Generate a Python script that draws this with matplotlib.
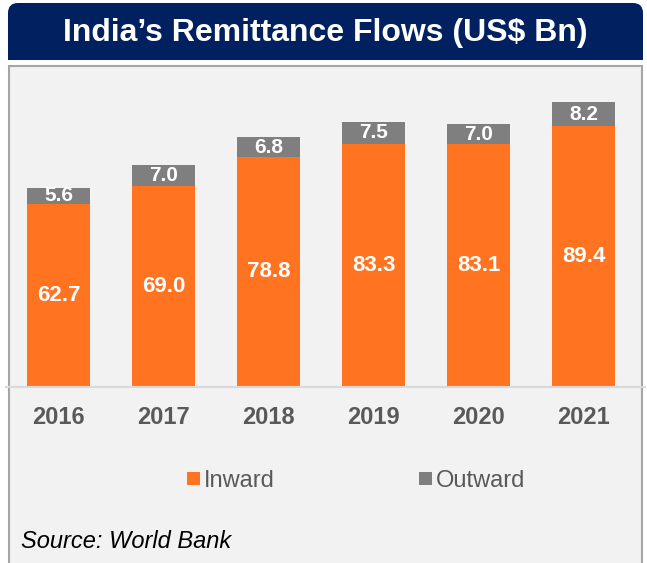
import matplotlib
matplotlib.use("Agg")
import matplotlib.pyplot as plt
from matplotlib.patches import Rectangle, FancyBboxPatch

plt.rcParams['font.family'] = ['Liberation Sans', 'DejaVu Sans']

years = ['2016', '2017', '2018', '2019', '2020', '2021']
inward = [62.7, 69.0, 78.8, 83.3, 83.1, 89.4]
outward = [5.6, 7.0, 6.8, 7.5, 7.0, 8.2]

ORANGE = '#FF7321'
GRAY = '#7F7F7F'
NAVY = '#002060'
TEXT_GRAY = '#595959'

W, H = 647, 563
fig = plt.figure(figsize=(W / 100, H / 100), dpi=100)

# background layer in pixel coordinates (y grows downward)
bg = fig.add_axes([0, 0, 1, 1], zorder=0)
bg.set_xlim(0, W)
bg.set_ylim(H, 0)
bg.axis('off')

# title banner with rounded top corners; the bottom part is hidden below
bg.add_patch(FancyBboxPatch((8, 3), 635, 80, boxstyle='round,pad=0,rounding_size=10',
                            facecolor=NAVY, edgecolor='none', zorder=1))
bg.add_patch(Rectangle((0, 60), W, 6, facecolor='white', edgecolor='none', zorder=2))
bg.add_patch(Rectangle((9, 66), 633, 510, facecolor='#F2F2F2', edgecolor='#A6A6A6',
                       linewidth=1.5, zorder=3))
bg.text(325.5, 33, 'India\u2019s Remittance Flows (US$ Bn)', color='white',
        fontsize=23, fontweight='bold', ha='center', va='center', zorder=4)
bg.text(21, 541, 'Source: World Bank', color='black', fontsize=17, style='italic',
        ha='left', va='center', zorder=4)

# bar chart axes
ax = fig.add_axes([6 / W, (H - 387) / H, 639 / W, (387 - 70) / H], zorder=5)
ax.patch.set_alpha(0)
x = range(len(years))
b1 = ax.bar(x, inward, width=0.6, color=ORANGE, label='Inward')
b2 = ax.bar(x, outward, width=0.6, bottom=inward, color=GRAY, label='Outward')
for i in x:
    ax.text(i, inward[i] / 2, f'{inward[i]:.1f}', color='white', fontsize=16,
            fontweight='bold', ha='center', va='center')
    ax.text(i, inward[i] + outward[i] / 2, f'{outward[i]:.1f}', color='white',
            fontsize=15, fontweight='bold', ha='center', va='center')

ax.set_xlim(-0.5, 5.586)
ax.set_ylim(0, 108.6)
ax.set_xticks(list(x))
ax.set_xticklabels(years, fontsize=17, fontweight='bold', color=TEXT_GRAY)
ax.tick_params(axis='x', length=0, pad=13.5)
ax.set_yticks([])
for s in ['top', 'right', 'left']:
    ax.spines[s].set_visible(False)
ax.spines['bottom'].set_color('#D9D9D9')
ax.spines['bottom'].set_linewidth(1.5)

fig.legend(handles=[b1, b2], loc='center', bbox_to_anchor=(356.5 / W, 1 - 481 / H),
           ncol=2, frameon=False, fontsize=17, labelcolor=TEXT_GRAY,
           handlelength=0.55, handleheight=0.47, handletextpad=0.17, columnspacing=6.1,
           borderpad=0, borderaxespad=0)

fig.savefig('out.png', dpi=100)
